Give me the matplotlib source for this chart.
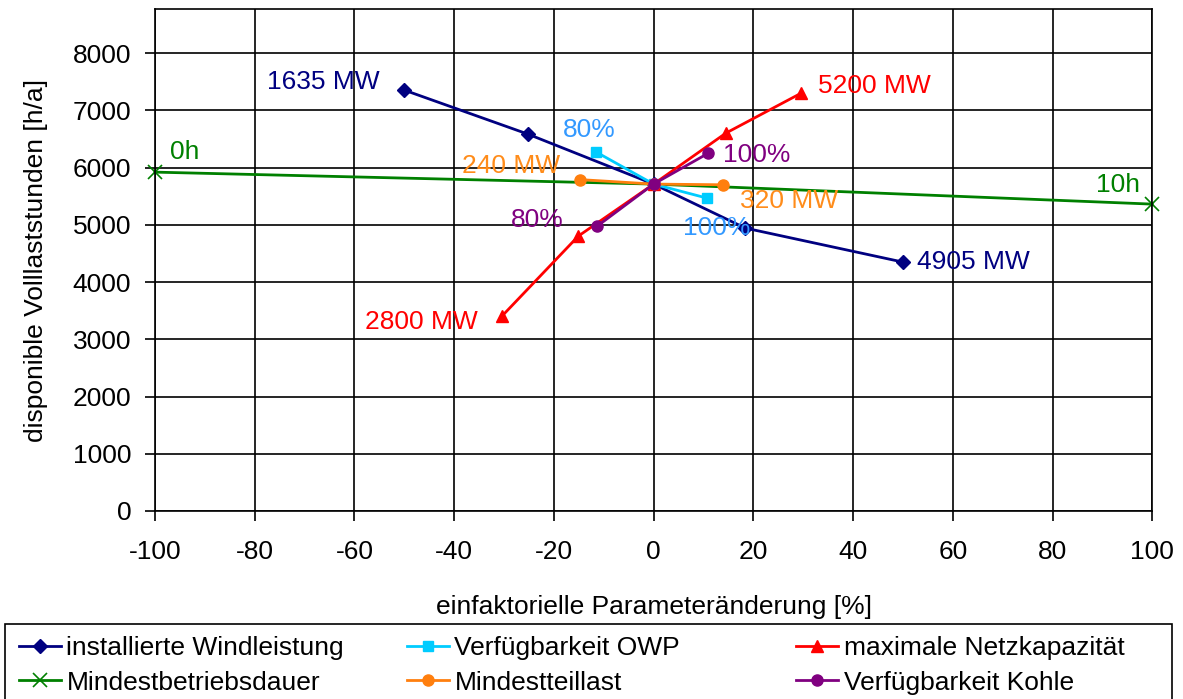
import matplotlib
matplotlib.use('Agg')
import matplotlib.pyplot as plt
from matplotlib.patches import Rectangle

plt.rcParams['font.family'] = ['Liberation Sans', 'DejaVu Sans']
plt.rcParams['axes.unicode_minus'] = False

# data
wind_x = [-50, -25.2, 0, 18.4, 50]
wind_y = [7354, 6585, 5712, 4943, 4349]
owp_x = [-11.5, 0, 10.7]
owp_y = [6271, 5712, 5467]
netz_x = [-30.4, -15.1, 0, 14.5, 29.6]
netz_y = [3406, 4803, 5712, 6603, 7301]
dauer_x = [-100, 0, 100]
dauer_y = [5921, 5712, 5362]
teil_x = [-14.7, 0, 13.9]
teil_y = [5790, 5712, 5700]
kohle_x = [-11.3, 0, 11.0]
kohle_y = [4978, 5712, 6253]

labels = ['installierte Windleistung', 'Verfügbarkeit OWP', 'maximale Netzkapazität',
          'Mindestbetriebsdauer', 'Mindestteillast', 'Verfügbarkeit Kohle']

fig = plt.figure(figsize=(11.83, 6.99), dpi=100)
ax = fig.add_axes([0.131, 0.269, 0.843, 0.718])

h1, = ax.plot(wind_x, wind_y, color='#000080', marker='D', ms=7, lw=2, zorder=3)
h2, = ax.plot(owp_x, owp_y, color='#00ccff', marker='s', ms=7, lw=2, zorder=3)
h3, = ax.plot(netz_x, netz_y, color='#ff0000', marker='^', ms=9, lw=2, zorder=3)
h4, = ax.plot(dauer_x, dauer_y, color='#008000', marker='x', ms=10, mew=1.2, lw=2,
              markevery=[0, 2], zorder=2, clip_on=False)
h5, = ax.plot(teil_x, teil_y, color='#ff7f0e', marker='o', ms=8, lw=2, zorder=3)
h6, = ax.plot(kohle_x, kohle_y, color='#800080', marker='o', ms=8, lw=2, zorder=4)

fs = 19
ax.text(-54.9, 7493, '1635 MW', color='#000080', fontsize=fs, ha='right', va='center')
ax.text(33.0, 7424, '5200 MW', color='#ff0000', fontsize=fs, ha='left', va='center')
ax.text(-96.9, 6271, '0h', color='#008000', fontsize=fs, ha='left', va='center')
ax.text(97.6, 5694, '10h', color='#008000', fontsize=fs, ha='right', va='center')
ax.text(-18.2, 6655, '80%', color='#3399ff', fontsize=fs, ha='left', va='center')
ax.text(-38.4, 6026, '240 MW', color='#ff8c1a', fontsize=fs, ha='left', va='center')
ax.text(13.9, 6218, '100%', color='#800080', fontsize=fs, ha='left', va='center')
ax.text(17.4, 5415, '320 MW', color='#ff8c1a', fontsize=fs, ha='left', va='center')
ax.text(-28.6, 5083, '80%', color='#800080', fontsize=fs, ha='left', va='center')
ax.text(5.9, 4943, '100%', color='#3399ff', fontsize=fs, ha='left', va='center')
ax.text(52.9, 4349, '4905 MW', color='#000080', fontsize=fs, ha='left', va='center')
ax.text(-57.9, 3301, '2800 MW', color='#ff0000', fontsize=fs, ha='left', va='center')

ax.set_xlim(-100, 100)
ax.set_ylim(0, 8770)
ax.set_xticks(range(-100, 101, 20))
ax.set_yticks(range(0, 8001, 1000))
ax.grid(True, color='black', lw=1.2)
ax.set_axisbelow(True)
for s in ax.spines.values():
    s.set_color('black')
    s.set_linewidth(1.2)
ax.tick_params(labelsize=fs, direction='out', length=7, width=1.2)
ax.tick_params(axis='x', pad=14)
ax.tick_params(axis='y', pad=10)
ax.set_xlabel('einfaktorielle Parameteränderung [%]', fontsize=fs, labelpad=22)
ax.set_ylabel('disponible Volllaststunden [h/a]', fontsize=fs, labelpad=18)

# legend in three equally wide columns, one small legend per column
hs = [h1, h2, h3, h4, h5, h6]
col_x = [0.016, 0.344, 0.673]
for c in range(3):
    fig.legend([hs[c], hs[c + 3]], [labels[c], labels[c + 3]],
               loc='upper left', bbox_to_anchor=(col_x[c], 0.090),
               fontsize=fs, frameon=False, handlelength=1.6, handletextpad=0.2,
               borderaxespad=0, labelspacing=0.4, borderpad=0)

# legend box, runs off the bottom edge like in the original
fig.patches.append(Rectangle((0.0042, -0.01), 0.9865, 0.117, transform=fig.transFigure,
                             fill=False, edgecolor='black', lw=1.2))

fig.savefig('out.png', dpi=100)
